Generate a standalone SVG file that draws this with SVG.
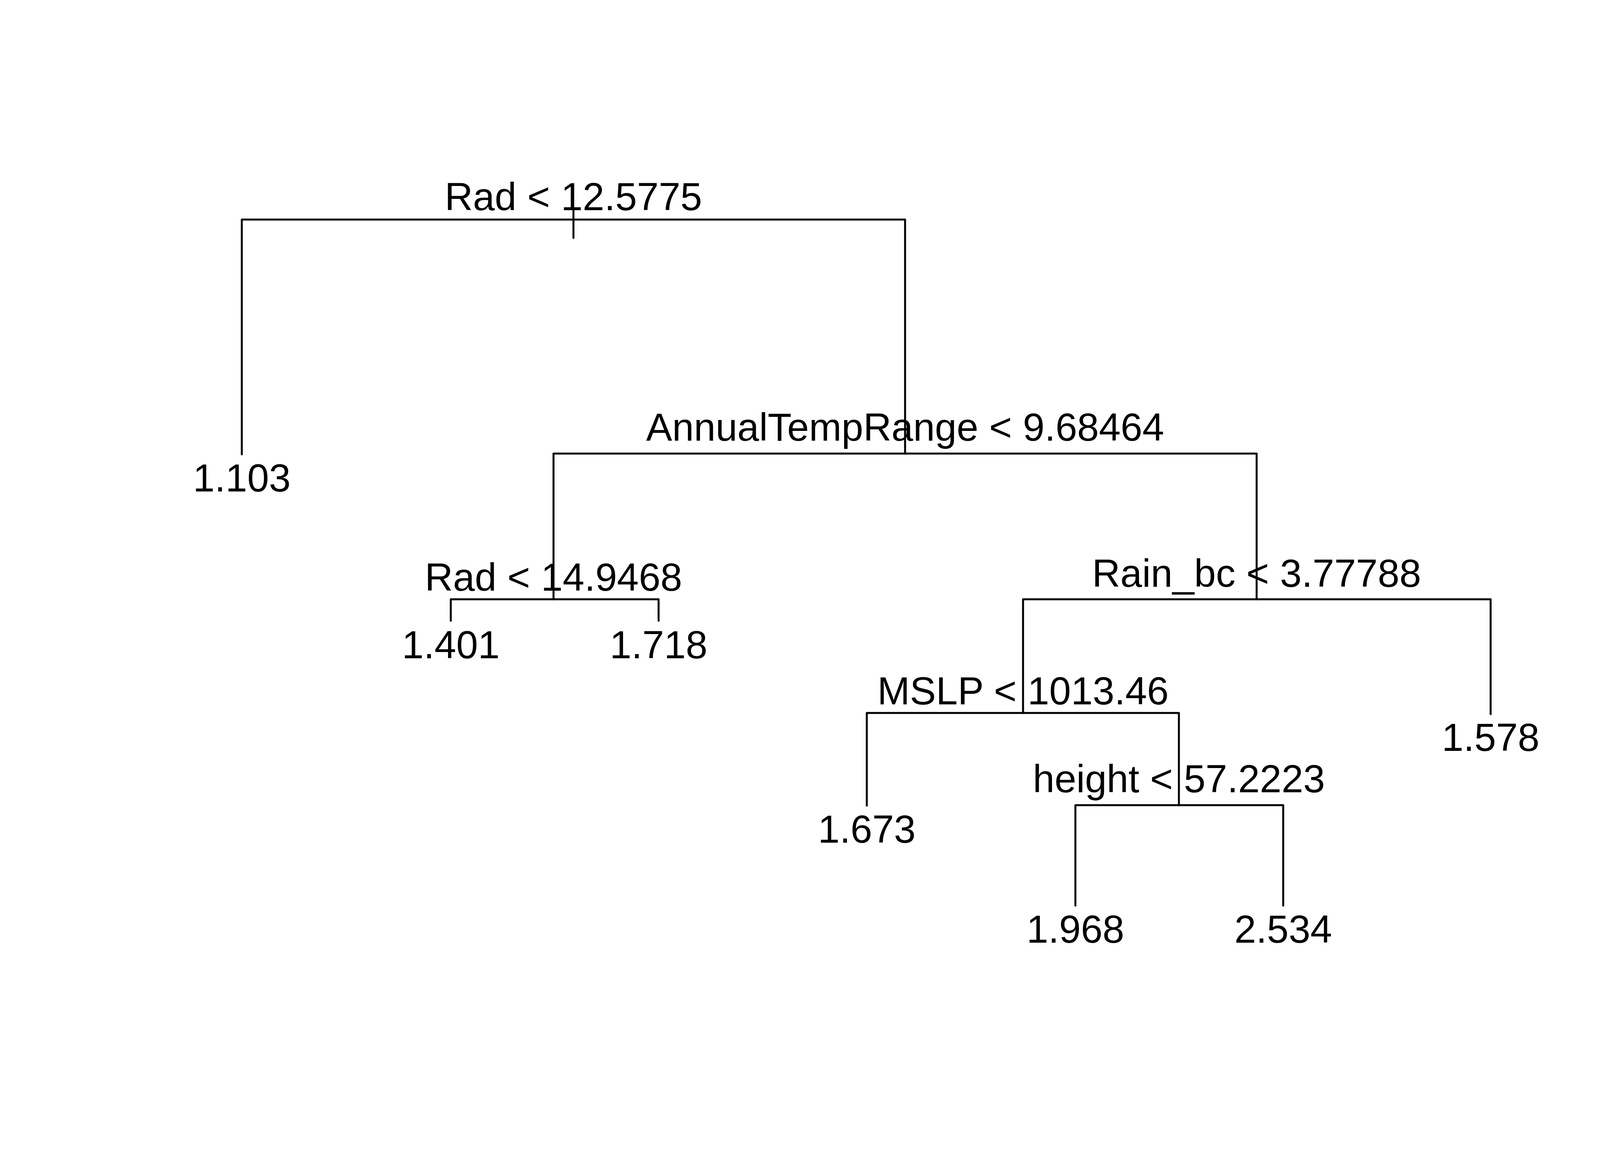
<svg xmlns="http://www.w3.org/2000/svg" width="4200" height="3000" viewBox="0 0 4200 3000">
<style>
.c{fill:none;stroke:#000;stroke-width:5;stroke-linecap:round}
text{font-family:"Liberation Sans",Arial,sans-serif;font-size:100px;fill:#000;text-anchor:middle}
</style>
<rect x="0" y="0" width="4200" height="3000" fill="#fff"/>
<g id="connectors">
<path class="c" d="M1468 538V609M619 562H2317M619 562V1163M2317 562V1161"/>
<path class="c" d="M1417 1161H3217M1417 1161V1534M3217 1161V1534"/>
<path class="c" d="M1154 1534H1686M1154 1534V1589M1686 1534V1589"/>
<path class="c" d="M2619 1534H3816M3816 1534V1828M2619 1534V1825"/>
<path class="c" d="M2219 1825H3018M2219 1825V2062M3018 1825V2061"/>
<path class="c" d="M2753 2061H3285M2753 2061V2318M3285 2061V2318"/>
</g>
<g id="node-root"><text x="1468" y="538">Rad &lt; 12.5775</text></g>
<g id="leaf-1103"><text x="619" y="1258">1.103</text></g>
<g id="node-atr"><text x="2317" y="1128">AnnualTempRange &lt; 9.68464</text></g>
<g id="node-rad2"><text x="1417" y="1512">Rad &lt; 14.9468</text></g>
<g id="leaf-1401"><text x="1154" y="1685">1.401</text></g>
<g id="leaf-1718"><text x="1686" y="1685">1.718</text></g>
<g id="node-rain"><text x="3217" y="1502">Rain_bc &lt; 3.77788</text></g>
<g id="leaf-1578"><text x="3816" y="1922">1.578</text></g>
<g id="node-mslp"><text x="2619" y="1803">MSLP &lt; 1013.46</text></g>
<g id="leaf-1673"><text x="2219" y="2157">1.673</text></g>
<g id="node-height"><text x="3018" y="2028">height &lt; 57.2223</text></g>
<g id="leaf-1968"><text x="2753" y="2413">1.968</text></g>
<g id="leaf-2534"><text x="3285" y="2413">2.534</text></g>
</svg>
